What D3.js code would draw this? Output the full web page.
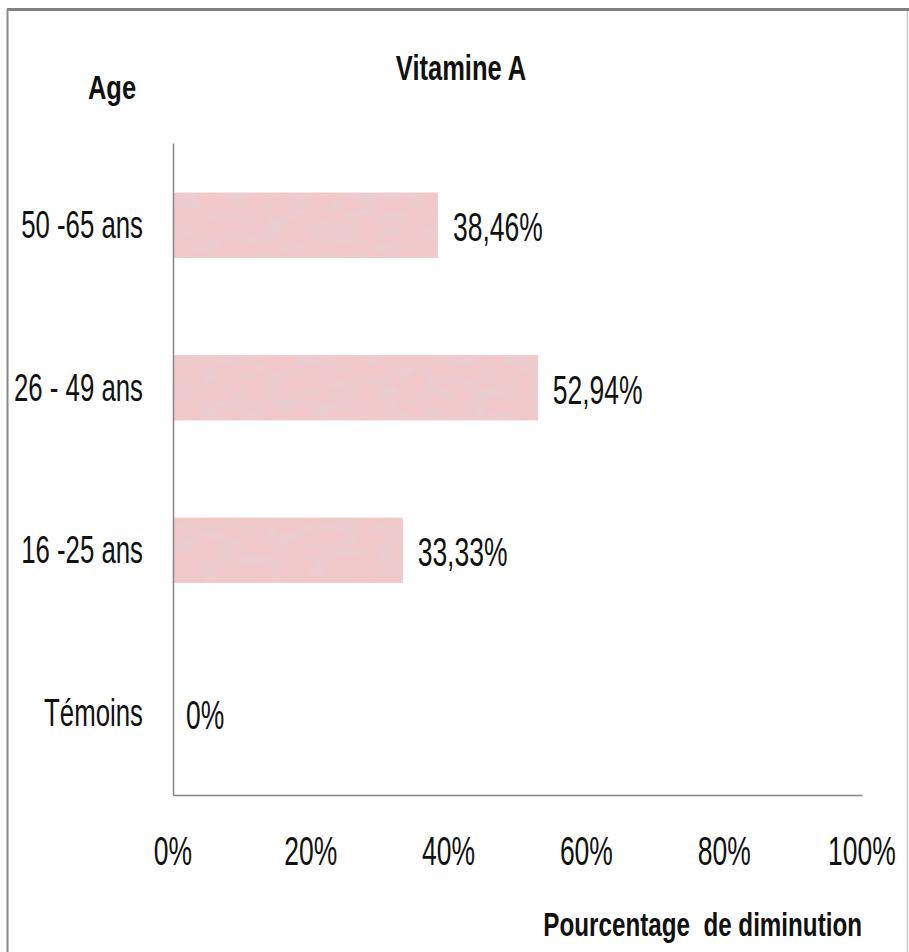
<!DOCTYPE html>
<html>
<head>
<meta charset="utf-8">
<script src="https://cdn.jsdelivr.net/npm/d3@7"></script>
<style>
  html, body { margin: 0; padding: 0; background: #fff; }
  svg text { font-family: "Liberation Sans", Arial, sans-serif; fill: #111; white-space: pre; }
</style>
</head>
<body>
<svg id="chart"></svg>
<script>
const categories = ['50 -65 ans', '26 - 49 ans', '16 -25 ans', 'Témoins'];
const values = [0.3846, 0.5294, 0.3333, 0];
const valueLabels = ['38,46%', '52,94%', '33,33%', '0%'];
const xTickValues = [0, 0.2, 0.4, 0.6, 0.8, 1];
const title = 'Vitamine A';
const yTitle = 'Age';
const xTitle = 'Pourcentage  de diminution';

const width = 909;
const height = 952;
const plot = { left: 173, right: 862, top: 143, bottom: 795 };

const svg = d3.select('#chart').attr('width', width).attr('height', height);

// bar texture
const defs = svg.append('defs');
const filter = defs.append('filter').attr('id', 'mottle')
  .attr('x', 0).attr('y', 0).attr('width', 1).attr('height', 1);
filter.append('feTurbulence')
  .attr('type', 'fractalNoise')
  .attr('baseFrequency', '0.045 0.09')
  .attr('numOctaves', 4)
  .attr('seed', 7)
  .attr('result', 'noise');
filter.append('feColorMatrix')
  .attr('in', 'noise')
  .attr('type', 'matrix')
  .attr('values', '0 0 0 0 0.82  0 0 0 0 0.62  0 0 0 0 0.65  2.2 0 0 0 -0.85')
  .attr('result', 'spots');
filter.append('feComposite')
  .attr('in', 'spots').attr('in2', 'SourceGraphic').attr('operator', 'atop')
  .attr('result', 'mix');
filter.append('feMerge').call(m => {
  m.append('feMergeNode').attr('in', 'SourceGraphic');
  m.append('feMergeNode').attr('in', 'mix');
});

// frame
svg.append('line')
  .attr('x1', 7).attr('x2', 909).attr('y1', 9.5).attr('y2', 9.5)
  .attr('stroke', '#808080').attr('stroke-width', 3);
svg.append('line')
  .attr('x1', 7.5).attr('x2', 7.5).attr('y1', 9).attr('y2', height)
  .attr('stroke', '#8a8a8a').attr('stroke-width', 2);
svg.append('line')
  .attr('x1', 907.5).attr('x2', 907.5).attr('y1', 11).attr('y2', height)
  .attr('stroke', '#c8c8c8').attr('stroke-width', 1.5);

const xScale = d3.scaleLinear().domain([0, 1]).range([plot.left, plot.right]);
const yScale = d3.scaleBand()
  .domain(categories)
  .range([plot.top, plot.bottom])
  .paddingInner(0.6)
  .paddingOuter(0.306);

// tall narrow text, like the stretched original
function label(x, y, text, opts) {
  const o = Object.assign({ size: 26.5, sy: 1.5, anchor: 'start', weight: 'normal' }, opts);
  svg.append('text')
    .attr('transform', `translate(${x},${y}) scale(1,${o.sy})`)
    .attr('font-size', o.size)
    .attr('font-weight', o.weight)
    .attr('text-anchor', o.anchor)
    .text(text);
}

// bars
svg.append('g')
  .selectAll('rect')
  .data(values)
  .join('rect')
  .attr('x', xScale(0))
  .attr('y', (d, i) => yScale(categories[i]))
  .attr('width', d => xScale(d) - xScale(0))
  .attr('height', yScale.bandwidth())
  .attr('fill', '#f2c8ca')
  .attr('filter', 'url(#mottle)');

// axes
const xAxis = svg.append('g')
  .attr('transform', `translate(0,${plot.bottom})`)
  .call(d3.axisBottom(xScale).tickValues(xTickValues).tickSize(0).tickFormat(''));
xAxis.select('.domain').attr('stroke', '#868686').attr('stroke-width', 1.5);

const yAxis = svg.append('g')
  .attr('transform', `translate(${plot.left},0)`)
  .call(d3.axisLeft(yScale).tickSize(0).tickFormat(''));
yAxis.select('.domain').attr('stroke', '#868686').attr('stroke-width', 1.5);

// tick labels
xTickValues.forEach(v => label(xScale(v), 865, d3.format('.0%')(v), { anchor: 'middle' }));
categories.forEach(c => label(143, yScale(c) + yScale.bandwidth() / 2 + 13, c, { anchor: 'end', size: 25.8 }));

// value labels
values.forEach((v, i) => label(xScale(v) + (v > 0 ? 15 : 13),
  yScale(categories[i]) + yScale.bandwidth() / 2 + 16, valueLabels[i]));

// titles
label(461, 80, title, { size: 25.5, sy: 1.4, anchor: 'middle', weight: 'bold' });
label(112, 99, yTitle, { size: 25.5, sy: 1.3, anchor: 'middle', weight: 'bold' });
label(862, 936, xTitle, { size: 24.2, sy: 1.4, anchor: 'end', weight: 'bold' });
</script>
</body>
</html>
